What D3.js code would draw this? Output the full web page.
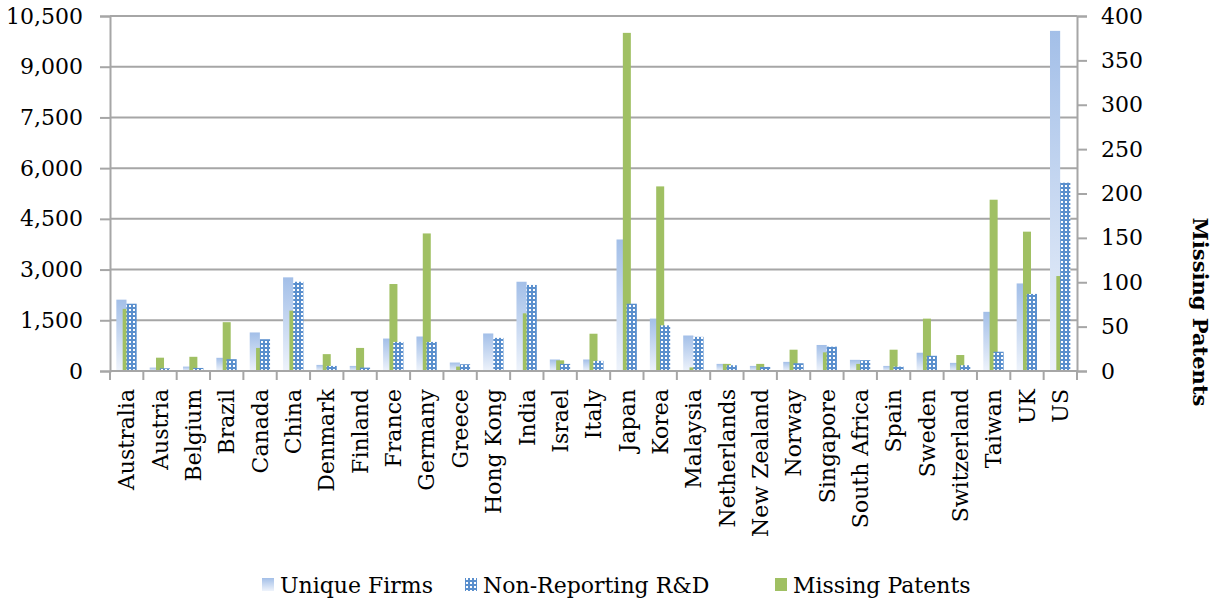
<!DOCTYPE html>
<html>
<head>
<meta charset="utf-8">
<script src="https://cdn.jsdelivr.net/npm/d3@7"></script>
<style>
  body { margin: 0; background: #fff; }
  text { font-family: "DejaVu Serif", serif; fill: #000; }
</style>
</head>
<body>
<div id="chart"></div>
<script>
// data
const countries = ["Australia", "Austria", "Belgium", "Brazil", "Canada", "China", "Denmark", "Finland",
  "France", "Germany", "Greece", "Hong Kong", "India", "Israel", "Italy", "Japan", "Korea", "Malaysia",
  "Netherlands", "New Zealand", "Norway", "Singapore", "South Africa", "Spain", "Sweden", "Switzerland",
  "Taiwan", "UK", "US"];
const uniqueFirms = [2110, 100, 130, 390, 1140, 2770, 180, 150, 960, 1020, 250, 1110, 2640, 340, 340,
  3890, 1550, 1050, 210, 150, 270, 770, 330, 150, 540, 240, 1750, 2590, 10060];
const nonReportingRD = [1990, 80, 90, 350, 940, 2640, 150, 100, 860, 860, 200, 980, 2545, 210, 300,
  1990, 1350, 1010, 170, 120, 230, 720, 320, 130, 450, 170, 570, 2280, 5570];
const missingPatents = [70, 15, 16, 55, 26, 68, 19, 26, 98, 155, 5, 0, 65, 12, 42,
  381, 208, 4, 8, 8, 24, 21, 8, 24, 59, 18, 193, 157, 107];
const leftTicks = [0, 1500, 3000, 4500, 6000, 7500, 9000, 10500];
const rightTicks = [0, 50, 100, 150, 200, 250, 300, 350, 400];
const seriesNames = ["Unique Firms", "Non-Reporting R&D", "Missing Patents"];

const width = 1219, height = 601;
const plot = { left: 110, right: 1077, top: 16, bottom: 371 };
const gridColor = "#a6a6a6";

const svg = d3.select("#chart").append("svg")
  .attr("width", width)
  .attr("height", height);

const defs = svg.append("defs");

// light blue gradient for unique firms
const grad = defs.append("linearGradient")
  .attr("id", "firmsGrad")
  .attr("x1", 0).attr("y1", 0).attr("x2", 0).attr("y2", 1);
grad.append("stop").attr("offset", "0%").attr("stop-color", "#a3bfe8");
grad.append("stop").attr("offset", "100%").attr("stop-color", "#eef3fb");

// blue grid pattern for non-reporting R&D
const pat = defs.append("pattern")
  .attr("id", "rdPattern")
  .attr("patternUnits", "userSpaceOnUse")
  .attr("width", 4).attr("height", 4);
pat.append("rect").attr("width", 4).attr("height", 4).attr("fill", "#5a8fcd");
pat.append("rect").attr("x", 1).attr("y", 1).attr("width", 2).attr("height", 2).attr("fill", "#fff");

const greenColor = "#a0c063";

//scales
const x = d3.scaleBand().domain(countries).range([plot.left, plot.right]).padding(0);
const bw = x.bandwidth();
const sub = d3.scaleBand().domain(["firms", "rd"]).range([0.19 * bw, 0.80 * bw]);
const yL = d3.scaleLinear().domain([0, 10500]).range([plot.bottom, plot.top]);
const yR = d3.scaleLinear().domain([0, 400]).range([plot.bottom, plot.top]);

// gridlines
svg.append("g")
  .selectAll("line")
  .data(leftTicks.slice(1))
  .join("line")
  .attr("x1", plot.left).attr("x2", plot.right)
  .attr("y1", d => yL(d)).attr("y2", d => yL(d))
  .attr("stroke", gridColor).attr("stroke-width", 2);

const rows = countries.map((c, i) => ({
  country: c, firms: uniqueFirms[i], rd: nonReportingRD[i], patents: missingPatents[i]
}));

// unique firms
svg.append("g").selectAll("rect")
  .data(rows)
  .join("rect")
  .attr("x", d => x(d.country) + sub("firms"))
  .attr("width", sub.bandwidth())
  .attr("y", d => yL(d.firms))
  .attr("height", d => yL(0) - yL(d.firms))
  .attr("fill", "url(#firmsGrad)");

// missing patents (secondary axis)
const gw = 0.24 * bw;
svg.append("g").selectAll("rect")
  .data(rows)
  .join("rect")
  .attr("x", d => x(d.country) + bw / 2 - gw / 2)
  .attr("width", gw)
  .attr("y", d => yR(d.patents))
  .attr("height", d => yR(0) - yR(d.patents))
  .attr("fill", greenColor);

// non-reporting R&D
svg.append("g").selectAll("rect")
  .data(rows)
  .join("rect")
  .attr("x", d => x(d.country) + sub("rd"))
  .attr("width", sub.bandwidth())
  .attr("y", d => yL(d.rd))
  .attr("height", d => yL(0) - yL(d.rd))
  .attr("fill", "url(#rdPattern)");

// left axis
const leftAxis = d3.axisLeft(yL).tickValues(leftTicks).tickSize(10).tickPadding(17)
  .tickFormat(d3.format(","));
const gL = svg.append("g").attr("transform", `translate(${plot.left},0)`).call(leftAxis);

// right axis
const rightAxis = d3.axisRight(yR).tickValues(rightTicks).tickSize(10).tickPadding(14);
const gR = svg.append("g").attr("transform", `translate(${plot.right},0)`).call(rightAxis);

// bottom axis, ticks at category boundaries
const gB = svg.append("g").attr("transform", `translate(0,${plot.bottom})`);
gB.append("line")
  .attr("x1", plot.left).attr("x2", plot.right)
  .attr("stroke", gridColor).attr("stroke-width", 2);
gB.selectAll("line.tick")
  .data(countries.concat(["end"]))
  .join("line")
  .attr("class", "tick")
  .attr("x1", (d, i) => plot.left + i * bw).attr("x2", (d, i) => plot.left + i * bw)
  .attr("y1", 0).attr("y2", 9)
  .attr("stroke", gridColor).attr("stroke-width", 2);
gB.selectAll("text")
  .data(countries)
  .join("text")
  .attr("transform", d => `translate(${x(d) + bw / 2},18) rotate(-90)`)
  .attr("text-anchor", "end")
  .attr("dy", "0.35em")
  .style("font-size", "22px")
  .text(d => d);

[gL, gR].forEach(g => {
  g.select(".domain").attr("stroke", gridColor).attr("stroke-width", 2);
  g.selectAll(".tick line").attr("stroke", gridColor).attr("stroke-width", 2);
  g.selectAll(".tick text").style("font-size", "22px").attr("fill", "#000")
    .style("font-family", "DejaVu Serif");
});

// right axis title
svg.append("text")
  .attr("transform", "translate(1200,312) rotate(90)")
  .attr("text-anchor", "middle")
  .attr("dy", "0.35em")
  .style("font-size", "21px")
  .style("font-weight", "bold")
  .text("Missing Patents");

// legend
const legendX = [262, 465, 775];
const swatchFill = ["url(#firmsGrad)", "url(#rdPattern)", greenColor];
const legend = svg.append("g").selectAll("g")
  .data(seriesNames)
  .join("g")
  .attr("transform", (d, i) => `translate(${legendX[i]},585)`);
legend.append("rect")
  .attr("x", 0).attr("y", -7).attr("width", 12).attr("height", 13)
  .attr("fill", (d, i) => swatchFill[i]);
legend.append("text")
  .attr("x", 18)
  .attr("dy", "0.35em")
  .style("font-size", "22px")
  .text(d => d);
</script>
</body>
</html>
